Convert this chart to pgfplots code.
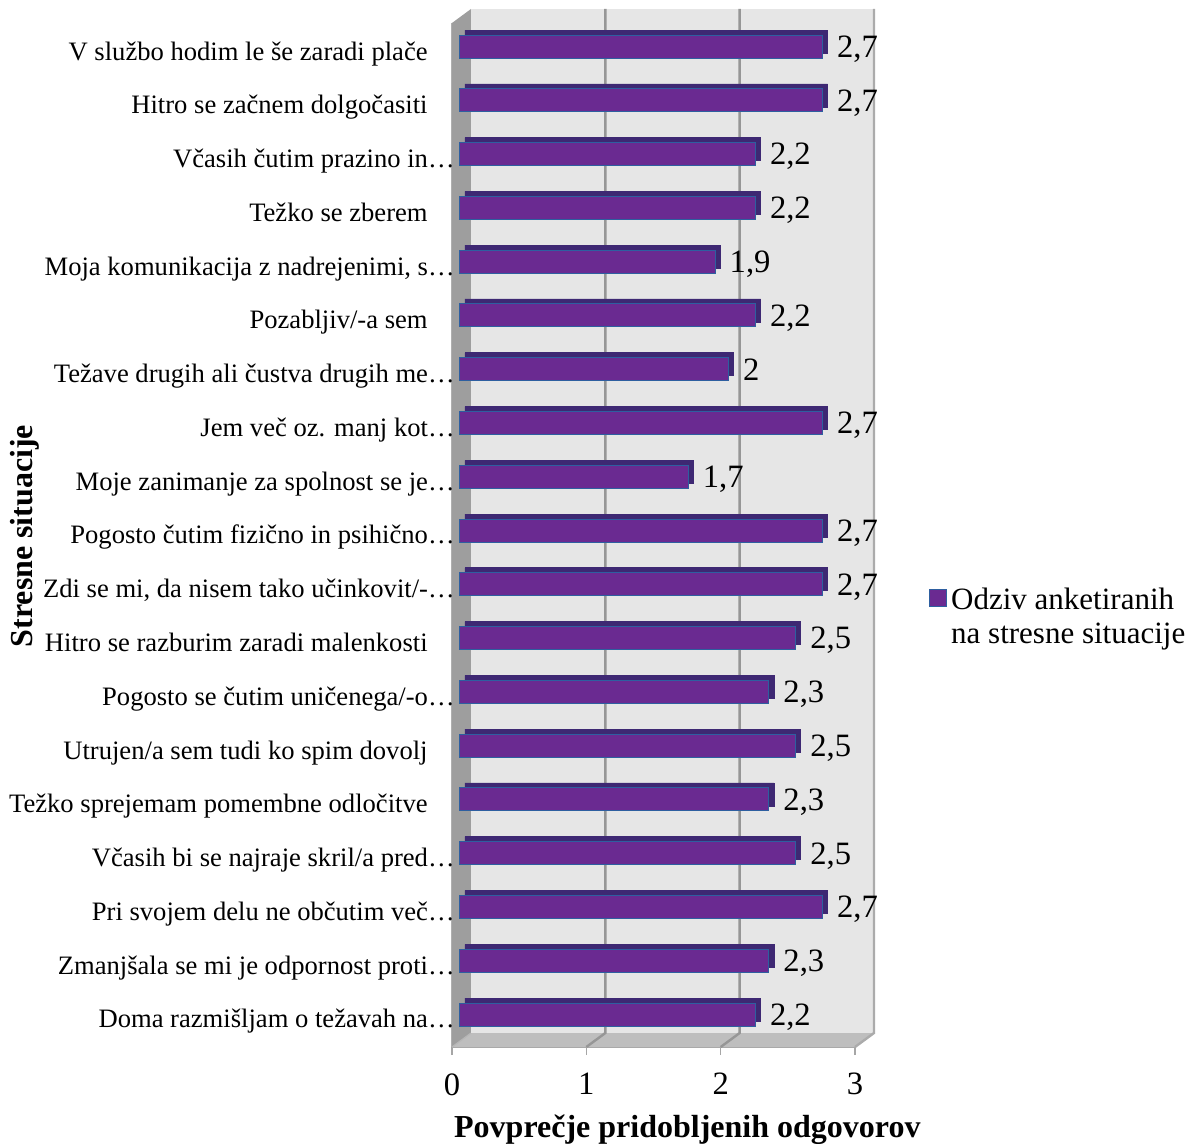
\documentclass[border=0pt]{standalone}
\usepackage{pgfplots}
\pgfplotsset{compat=1.18}
\usepackage{pgfplotstable}
\usepackage{fontspec}
\setmainfont{Liberation Serif}
\definecolor{barfront}{RGB}{106,42,145}
\definecolor{bartop}{RGB}{62,40,115}
\definecolor{baredge}{RGB}{46,95,160}
\definecolor{backwall}{RGB}{230,230,230}
\definecolor{leftwall}{RGB}{158,158,158}
\definecolor{floorc}{RGB}{190,190,190}
\definecolor{gridc}{RGB}{150,150,150}
\pgfplotstableread{
y v
18 2.7
17 2.7
16 2.2
15 2.2
14 1.9
13 2.2
12 2.0
11 2.7
10 1.7
9 2.7
8 2.7
7 2.5
6 2.3
5 2.5
4 2.3
3 2.5
2 2.7
1 2.3
0 2.2
}\datatable
\newcommand\F[1]{#1\hspace*{13.5pt}}
\begin{document}
\begin{tikzpicture}
\useasboundingbox (-226pt,-48.5pt) rectangle (375.5pt,523.5pt);
\begin{axis}[
  at={(0pt,0pt)}, anchor=south west,
  width=201.5pt, height=512pt, scale only axis,
  xmin=0, xmax=3, ymin=-0.604, ymax=18.44,
  clip=false,
  axis x line*=bottom, axis y line*=left,
  x axis line style={draw=gray!70, line width=0.8pt},
  y axis line style={draw=gray!60, line width=0.6pt},
  xtick={0,1,2,3}, xtick align=outside,
  major tick length=4pt,
  xtick style={draw=gray!70, line width=0.8pt},
  ytick={0,...,18}, ytick style={draw=none},
  yticklabels={
    {Doma razmišljam o težavah na…},
    {Zmanjšala se mi je odpornost proti…},
    {Pri svojem delu ne občutim več…},
    {Včasih bi se najraje skril/a pred…},
    {\F{Težko sprejemam pomembne odločitve}},
    {\F{Utrujen/a sem tudi ko spim dovolj}},
    {Pogosto se čutim uničenega/-o…},
    {\F{Hitro se razburim zaradi malenkosti}},
    {Zdi se mi, da nisem tako učinkovit/-…},
    {Pogosto čutim fizično in psihično…},
    {Moje zanimanje za spolnost se je…},
    {Jem več oz. manj kot…},
    {Težave drugih ali čustva drugih me…},
    {\F{Pozabljiv/-a sem}},
    {Moja komunikacija z nadrejenimi, s…},
    {\F{Težko se zberem}},
    {Včasih čutim prazino in…},
    {\F{Hitro se začnem dolgočasiti}},
    {\F{V službo hodim le še zaradi plače}}},
  yticklabel style={font=\fontsize{13.3}{15}\selectfont, anchor=east, inner sep=0pt,
    text height=8.7pt, text depth=0pt, xshift=1.5pt, yshift=-2.35pt},
  xticklabel style={font=\fontsize{16.3}{19}\selectfont, inner sep=0pt, anchor=north, text depth=0pt, yshift=-9pt},
  /pgf/number format/use comma,
  /pgf/number format/assume math mode=true,
  xlabel={Povprečje pridobljenih odgovorov},
  xlabel style={font=\bfseries\fontsize{16}{19}\selectfont, at={(axis description cs:0.584,-0.0879)}, anchor=base},
  ylabel={Stresne situacije},
  ylabel style={font=\bfseries\fontsize{16}{19}\selectfont, at={(axis description cs:-1.0397,0.499)}, anchor=base, rotate=0},
  legend style={draw=none, fill=none, inner sep=0pt, outer sep=0pt,
    at={(axis description cs:1.1836,0.452)}, anchor=north west,
    font=\fontsize{15.5}{17}\selectfont, cells={align=left}},
  legend cell align=left,
]
\def\yT{18.44}
\def\yB{-0.604}
% left wall
\fill[leftwall] (axis cs:0,\yT) -- ([shift={(9.5pt,7pt)}]axis cs:0,\yT) -- ([shift={(9.5pt,7pt)}]axis cs:0,\yB) -- (axis cs:0,\yB) -- cycle;
% back wall
\fill[backwall] ([shift={(9.5pt,7pt)}]axis cs:0,\yB) rectangle ([shift={(9.5pt,7pt)}]axis cs:3,\yT);
% floor
\fill[floorc] (axis cs:0,\yB) -- (axis cs:3,\yB) -- ([shift={(9.5pt,7pt)}]axis cs:3,\yB) -- ([shift={(9.5pt,7pt)}]axis cs:0,\yB) -- cycle;
% grid lines
\draw[gridc, line width=1.2pt] ([shift={(9.5pt,7pt)}]axis cs:1,\yT) -- ([shift={(9.5pt,7pt)}]axis cs:1,\yB) -- (axis cs:1,\yB);
\draw[gridc, line width=1.2pt] ([shift={(9.5pt,7pt)}]axis cs:2,\yT) -- ([shift={(9.5pt,7pt)}]axis cs:2,\yB) -- (axis cs:2,\yB);
\draw[gridc!80, line width=1.2pt] ([shift={(9.5pt,7pt)}]axis cs:3,\yT) -- ([shift={(9.5pt,7pt)}]axis cs:3,\yB) -- (axis cs:3,\yB);
\draw[gridc!70, line width=0.6pt] ([shift={(9.5pt,7pt)}]axis cs:0,\yB) -- (axis cs:0,\yB);
% bar top/end faces
\addplot[xbar, bar width=11.5pt, fill=bartop, draw=bartop, xshift=6.5pt, yshift=2.5pt, forget plot]
  table[x=v, y=y] {\datatable};
% bar front faces
\addplot[xbar, bar width=11.5pt, fill=barfront, draw=baredge, line width=0.5pt, xshift=4pt,
  point meta=x,
  nodes near coords,
  nodes near coords style={font=\fontsize{16.3}{19}\selectfont, anchor=west, inner sep=0pt, text depth=0pt, xshift=7pt, black},
  legend image code/.code={\draw[fill=barfront, draw=baredge, line width=0.6pt] (0pt,5.5pt) rectangle (8.5pt,14pt);}]
  table[x=v, y=y] {\datatable};
\addlegendentry{Odziv anketiranih\\na stresne situacije}
\end{axis}
\end{tikzpicture}
\end{document}
